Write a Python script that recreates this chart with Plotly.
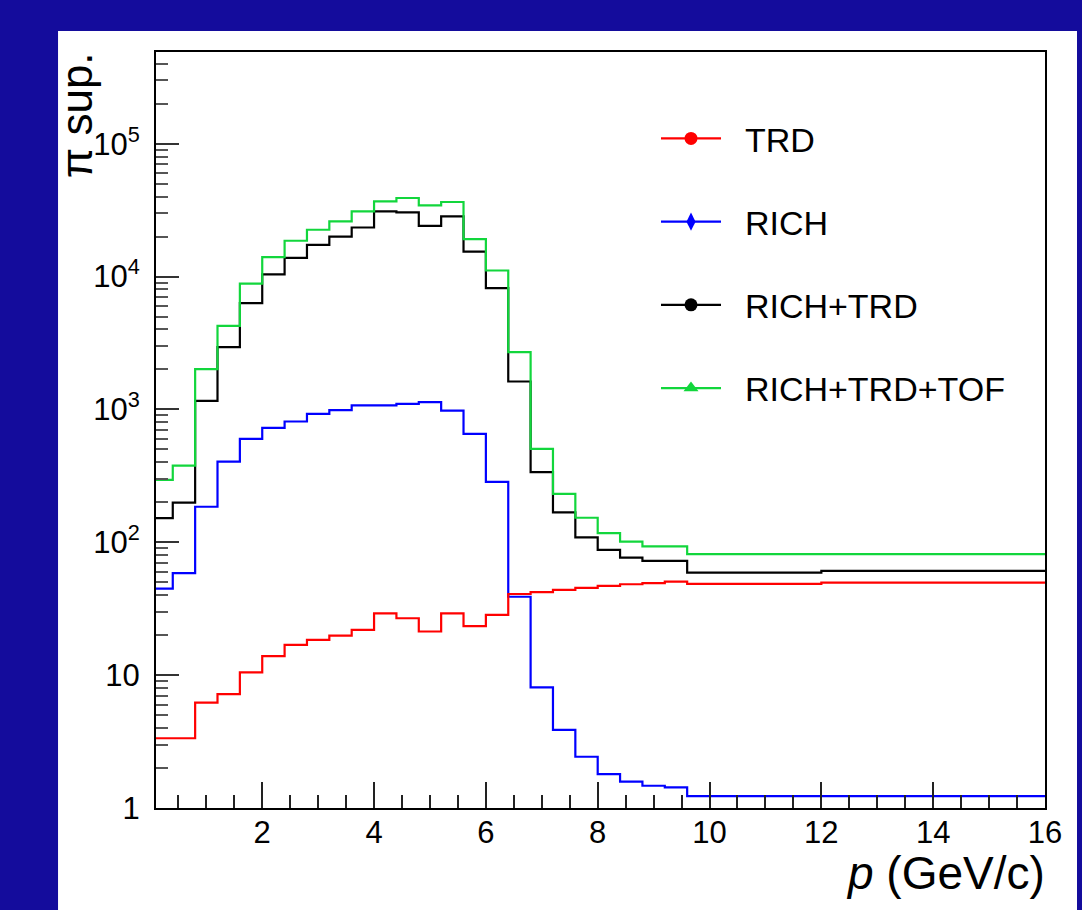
import plotly.graph_objects as go

# ---- data ----
bin_edges = [0.1, 0.4, 0.8, 1.2, 1.6, 2.0, 2.4, 2.8, 3.2, 3.6, 4.0, 4.4, 4.8,
             5.2, 5.6, 6.0, 6.4, 6.8, 7.2, 7.6, 8.0, 8.4, 8.8, 9.2, 9.6, 12.0, 16.0]

trd = [3.35, 3.35, 6.2, 7.2, 10.5, 13.9, 16.9, 18.4, 19.8, 21.9, 29.2, 26.8, 21.3,
       29.2, 23.4, 28.4, 40.8, 42.2, 43.8, 45.4, 46.9, 48.3, 49.2, 50.6, 48.7, 49.7]

rich = [44.8, 58.5, 185, 405, 601, 727, 811, 927, 988, 1071, 1071, 1102, 1135,
        979, 655, 285, 38.9, 8.1, 3.87, 2.43, 1.8, 1.58, 1.47, 1.43, 1.23, 1.23]

rich_trd = [152, 199, 1160, 2940, 6310, 10400, 13800, 17300, 20000, 23400, 30900,
            30400, 24100, 28400, 15400, 8190, 1622, 337, 168, 109, 87.7, 76.7,
            72.4, 72.4, 59.1, 60.9]

rich_trd_tof = [295, 378, 2010, 4260, 8830, 14000, 18600, 22500, 26000, 30900,
                36800, 39000, 34300, 36400, 19100, 11100, 2700, 505, 231, 153, 117,
                101, 93, 93, 81.4, 81.4]

series_names = ["TRD", "RICH", "RICH+TRD", "RICH+TRD+TOF"]
series_values = [trd, rich, rich_trd, rich_trd_tof]
series_colors = ["#FF0000", "#0000FF", "#000000", "#12D63C"]
series_symbols = ["circle", "diamond-tall", "circle", "triangle-up"]

y_tick_vals = [1, 10, 100, 1000, 10000, 100000]
y_tick_text = ["1", "10", "10<sup>2</sup>", "10<sup>3</sup>", "10<sup>4</sup>", "10<sup>5</sup>"]

FONT = "Liberation Sans, Arial, Helvetica, sans-serif"
NBSP = "\u00a0"

fig = go.Figure()

# histogram outlines (step lines)
draw_order = [1, 2, 3, 0]
for i in draw_order:
    vals = series_values[i]
    fig.add_trace(go.Scatter(
        x=bin_edges, y=list(vals) + [vals[-1]],
        mode="lines", line=dict(color=series_colors[i], width=2.2, shape="hv"),
        showlegend=False, hoverinfo="skip"))

# legend entries (line + marker)
for i, name in enumerate(series_names):
    fig.add_trace(go.Scatter(
        x=[None], y=[None], mode="lines+markers", name=NBSP * 2 + name,
        legendgroup=name,
        line=dict(color=series_colors[i], width=2.2),
        marker=dict(color=series_colors[i], symbol=series_symbols[i], size=13)))

minor_y = [m * 10 ** d for d in range(0, 6) for m in range(2, 10)]

fig.update_layout(
    width=1082, height=910,
    margin=dict(l=156, r=37, t=52, b=102, pad=0),
    paper_bgcolor="#140C9C",
    plot_bgcolor="white",
    font=dict(family=FONT, color="black"),
    showlegend=True,
    legend=dict(
        x=(656 - 156) / 889, y=0.9235, xanchor="left", yanchor="top",
        bgcolor="rgba(0,0,0,0)", borderwidth=0,
        font=dict(family=FONT, size=34, color="black"),
        tracegroupgap=36, itemwidth=60),
    xaxis=dict(
        range=[0.1, 16], showgrid=False, zeroline=False,
        showline=True, linecolor="black", linewidth=2, mirror=True,
        ticks="inside", ticklen=26, tickwidth=1.5, tickcolor="#222222",
        tick0=0, dtick=2,
        minor=dict(ticks="inside", ticklen=13, tickwidth=1.5,
                   tickcolor="#222222", dtick=0.5, tick0=0),
        tickfont=dict(family=FONT, size=31, color="black"),
        ticklabelstandoff=-4),
    yaxis=dict(
        type="log", range=[0, 5.69], showgrid=False, zeroline=False,
        showline=True, linecolor="black", linewidth=2, mirror=True,
        ticks="inside", ticklen=23, tickwidth=1.5, tickcolor="#333333",
        tickmode="array", tickvals=y_tick_vals, ticktext=y_tick_text,
        minor=dict(ticks="inside", ticklen=12, tickwidth=1.5,
                   tickcolor="#555555", tickmode="array", tickvals=minor_y),
        tickfont=dict(family=FONT, size=31, color="black"),
        ticklabelstandoff=8),
    shapes=[dict(type="rect", xref="paper", yref="paper",
                 x0=-0.1102, x1=1.036, y0=-0.14, y1=1.0278,
                 fillcolor="white", line=dict(width=0), layer="below")],
    annotations=[
        dict(text="<i>p</i> (GeV/c)", xref="paper", yref="paper",
             x=1.002, y=-0.086, xanchor="right", yanchor="middle",
             showarrow=False, font=dict(family=FONT, size=46, color="black")),
        dict(text="π sup.", xref="paper", yref="paper", textangle=-90,
             x=-0.0895, y=1.003, xanchor="center", yanchor="top",
             showarrow=False, font=dict(family=FONT, size=44, color="black")),
    ],
)

fig.write_html("out.html")
